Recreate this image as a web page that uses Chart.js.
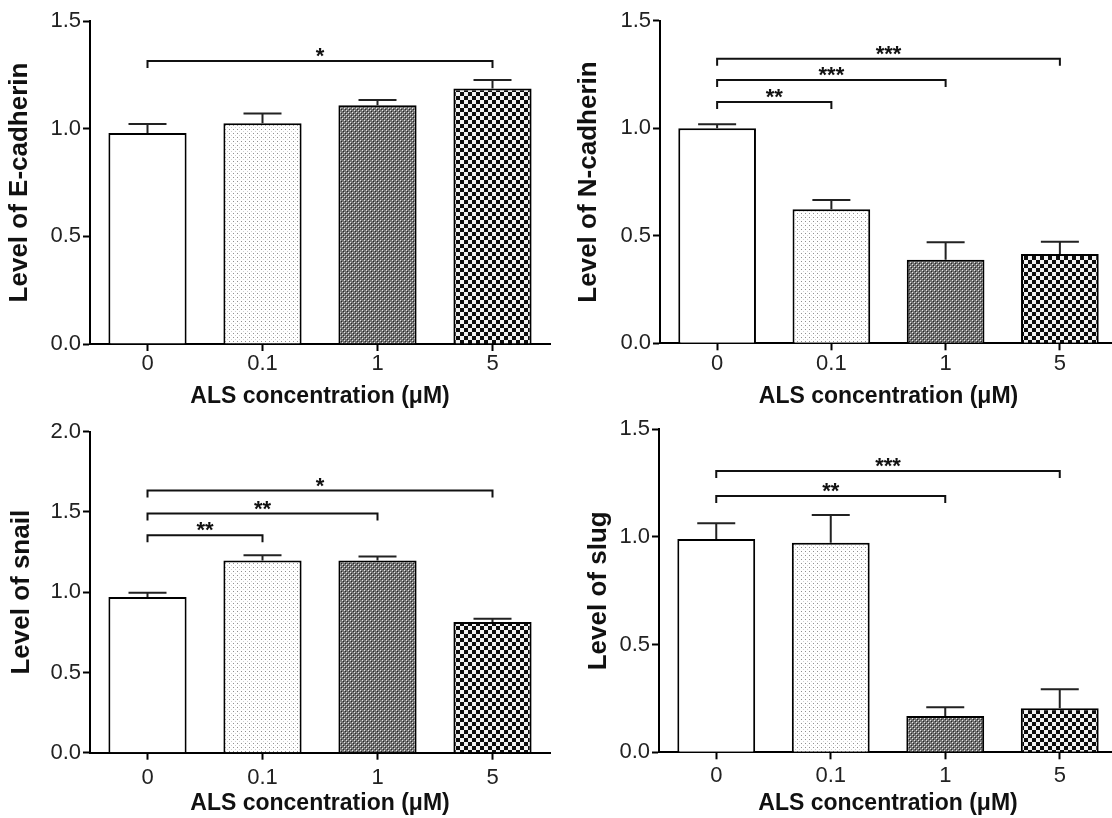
<!DOCTYPE html>
<html>
<head>
<meta charset="utf-8">
<script src="https://cdn.jsdelivr.net/npm/chart.js@4.4.0/dist/chart.umd.min.js"></script>
<style>
  html, body { margin: 0; padding: 0; background: #fff; overflow: hidden; }
  body { width: 1112px; height: 818px; position: relative; }
  canvas { position: absolute; }
</style>
</head>
<body>
<canvas id="eCad" style="left:0;top:0"></canvas>
<canvas id="nCad" style="left:560px;top:0"></canvas>
<canvas id="snail" style="left:0;top:410px"></canvas>
<canvas id="slug" style="left:560px;top:410px"></canvas>
<script>
const concLabels = ['0', '0.1', '1', '5'];
const xTitle = 'ALS concentration (\u03bcM)';

// means and SEM (upper error only)
const eCadMean = [0.98, 1.025, 1.109, 1.186];
const eCadSem = [0.042, 0.045, 0.024, 0.04];
const nCadMean = [1.0, 0.623, 0.389, 0.415];
const nCadSem = [0.018, 0.043, 0.081, 0.057];
const snailMean = [0.97, 1.197, 1.197, 0.814];
const snailSem = [0.027, 0.033, 0.025, 0.021];
const slugMean = [0.99, 0.973, 0.169, 0.204];
const slugSem = [0.074, 0.129, 0.04, 0.089];

// significance brackets: [from, to, height, stars]
const eCadSig = [[0, 3, 1.314, '*']];
const nCadSig = [[0, 1, 1.122, '**'], [0, 2, 1.224, '***'], [0, 3, 1.323, '***']];
const snailSig = [[0, 1, 1.355, '**'], [0, 2, 1.49, '**'], [0, 3, 1.633, '*']];
const slugSig = [[0, 2, 1.19, '**'], [0, 3, 1.306, '***']];

const FONT = '"Liberation Sans", Arial, sans-serif';

function makePattern(size, draw) {
  const c = document.createElement('canvas');
  c.width = c.height = size;
  const g = c.getContext('2d');
  draw(g);
  return g.createPattern(c, 'repeat');
}

const lightDots = makePattern(4, g => {
  g.fillStyle = '#ffffff'; g.fillRect(0, 0, 4, 4);
  g.fillStyle = '#8f8f8f'; g.fillRect(1, 1, 1, 1);
  g.fillStyle = '#d0d0d0'; g.fillRect(3, 3, 1, 1);
});
const darkFine = makePattern(4, g => {
  g.fillStyle = '#747474'; g.fillRect(0, 0, 4, 4);
  g.fillStyle = '#e6e6e6'; g.fillRect(0, 0, 1, 1); g.fillRect(2, 2, 1, 1);
  g.fillStyle = '#262626'; g.fillRect(1, 1, 1, 1); g.fillRect(3, 3, 1, 1);
});
const checker = makePattern(8, g => {
  g.fillStyle = '#f2f2f2'; g.fillRect(0, 0, 8, 8);
  g.fillStyle = '#0d0d0d'; g.fillRect(0, 0, 4, 4); g.fillRect(4, 4, 4, 4);
});
const barFills = ['#ffffff', lightDots, darkFine, checker];

// error bars + significance brackets
const annotPlugin = {
  id: 'annot',
  afterDatasetsDraw(chart, args, opts) {
    const ctx = chart.ctx;
    const bars = chart.getDatasetMeta(0).data;
    const y = chart.scales.y;
    const means = chart.data.datasets[0].data;
    ctx.save();
    ctx.strokeStyle = '#222';
    ctx.lineWidth = 2;
    bars.forEach((b, i) => {
      const y0 = y.getPixelForValue(means[i]);
      const y1 = y.getPixelForValue(means[i] + opts.sem[i]);
      ctx.beginPath();
      ctx.moveTo(b.x, y0); ctx.lineTo(b.x, y1);
      ctx.moveTo(b.x - 19, y1); ctx.lineTo(b.x + 19, y1);
      ctx.stroke();
    });
    ctx.strokeStyle = '#111';
    ctx.fillStyle = '#111';
    ctx.font = 'bold 22px ' + FONT;
    ctx.textAlign = 'center';
    ctx.textBaseline = 'alphabetic';
    opts.sig.forEach(([a, b, h, stars]) => {
      const xa = bars[a].x, xb = bars[b].x, yy = y.getPixelForValue(h);
      ctx.beginPath();
      ctx.moveTo(xa, yy + 7); ctx.lineTo(xa, yy); ctx.lineTo(xb, yy); ctx.lineTo(xb, yy + 7);
      ctx.stroke();
      ctx.fillText(stars, (xa + xb) / 2, yy + 2);
    });
    ctx.restore();
  }
};

function makeChart(id, lay, yMax, means, sems, sig, yTitle) {
  const cv = document.getElementById(id);
  cv.width = lay.w; cv.height = lay.h;
  return new Chart(cv, {
    type: 'bar',
    data: {
      labels: concLabels,
      datasets: [{
        data: means,
        backgroundColor: barFills,
        borderColor: '#000',
        borderWidth: 2,
        barPercentage: 0.68,
        categoryPercentage: 1
      }]
    },
    options: {
      responsive: false,
      animation: false,
      layout: { padding: { top: lay.padTop, right: lay.padRight, left: 0, bottom: 0 } },
      plugins: {
        legend: { display: false },
        tooltip: { enabled: false },
        annot: { sem: sems, sig: sig }
      },
      scales: {
        x: {
          afterFit: s => { s.height = lay.xHeight; },
          grid: { display: true, drawOnChartArea: false, drawTicks: true, tickLength: 7, tickWidth: 2, color: '#000', offset: false },
          border: { display: true, color: '#000', width: 2 },
          ticks: { color: '#222', padding: lay.tickPad, font: { family: FONT, size: 22 } },
          title: { display: true, text: xTitle, color: '#111', padding: { top: 0, bottom: lay.xTitlePad }, font: { family: FONT, size: 23, weight: 'bold', lineHeight: 1 } }
        },
        y: {
          min: 0, max: yMax,
          afterFit: s => { s.width = lay.yWidth; },
          grid: { display: true, drawOnChartArea: false, drawTicks: true, tickLength: 7, tickWidth: 2, color: '#000' },
          border: { display: true, color: '#000', width: 2 },
          ticks: { stepSize: 0.5, color: '#222', padding: 2, font: { family: FONT, size: 22 }, callback: v => v.toFixed(1) },
          title: { display: true, text: yTitle, color: '#111', padding: { top: lay.yTitlePad, bottom: 0 }, font: { family: FONT, size: 26, weight: 'bold', lineHeight: 1 } }
        }
      }
    },
    plugins: [annotPlugin]
  });
}

makeChart('eCad', { w: 556, h: 410, padTop: 21, padRight: 6, yWidth: 90, xHeight: 66, tickPad: 0, xTitlePad: 1.5, yTitlePad: 7 },
  1.5, eCadMean, eCadSem, eCadSig, 'Level of E-cadherin');
makeChart('nCad', { w: 562, h: 410, padTop: 20.7, padRight: 5, yWidth: 100, xHeight: 66.7, tickPad: 0, xTitlePad: 1.5, yTitlePad: 16 },
  1.5, nCadMean, nCadSem, nCadSig, 'Level of N-cadherin');
makeChart('snail', { w: 556, h: 408, padTop: 21.7, padRight: 6, yWidth: 90, xHeight: 65.3, tickPad: 5, xTitlePad: 3, yTitlePad: 9 },
  2.0, snailMean, snailSem, snailSig, 'Level of snail');
makeChart('slug', { w: 562, h: 408, padTop: 19.3, padRight: 5, yWidth: 99, xHeight: 65.7, tickPad: 3.5, xTitlePad: 3, yTitlePad: 26 },
  1.5, slugMean, slugSem, slugSig, 'Level of slug');
</script>
</body>
</html>
